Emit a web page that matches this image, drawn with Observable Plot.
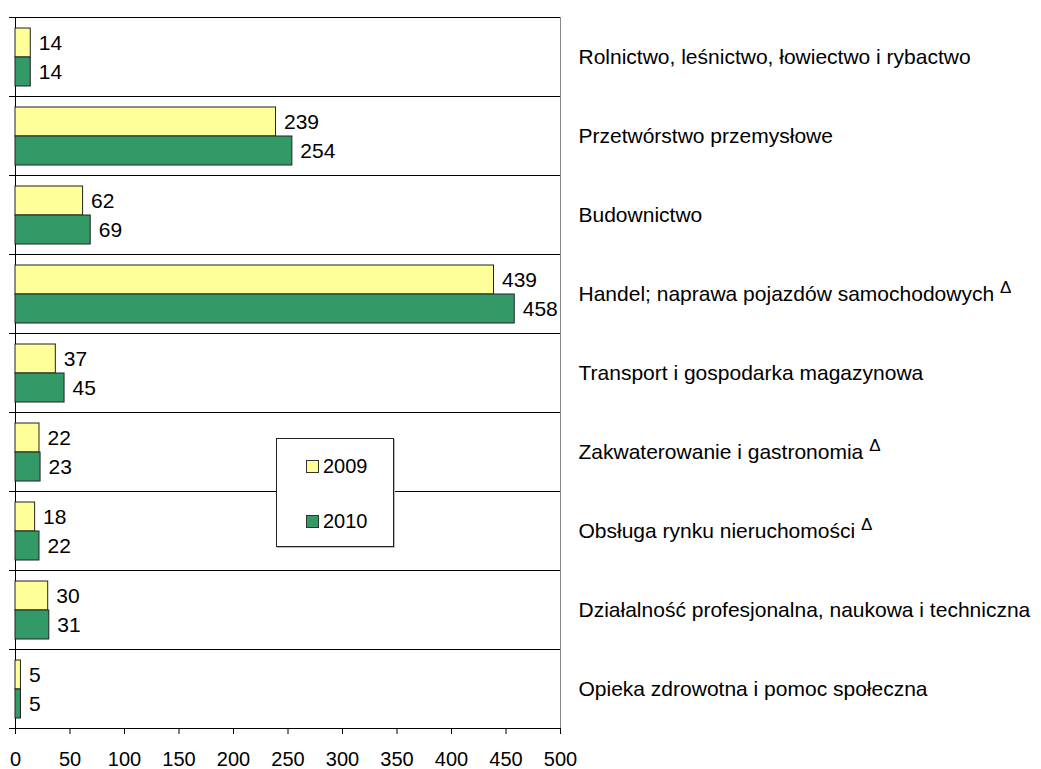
<!DOCTYPE html>
<html><head><meta charset="utf-8">
<script src="https://cdn.jsdelivr.net/npm/d3@7"></script>
<script src="https://cdn.jsdelivr.net/npm/@observablehq/plot@0.6"></script>
<style>
body{margin:0;background:#fff;font-family:"Liberation Sans",Arial,sans-serif}
#wrap{position:relative;width:1041px;height:769px}
.legend{position:absolute;left:276px;top:438px;width:116px;height:107px;border:1px solid #222;background:#fff;box-shadow:1px 1px 0 #bbb;font-size:20px;color:#000}
.legend .item{position:absolute;left:29px;display:flex;align-items:center;line-height:20px}
.legend .sw{width:11px;height:11px;border:1px solid #333;margin-right:4px;display:inline-block}
</style></head>
<body><div id="wrap"></div>
<script>
const categories = [
  "Rolnictwo, leśnictwo, łowiectwo i rybactwo",
  "Przetwórstwo przemysłowe",
  "Budownictwo",
  "Handel; naprawa pojazdów samochodowych",
  "Transport i gospodarka magazynowa",
  "Zakwaterowanie i gastronomia",
  "Obsługa rynku nieruchomości",
  "Działalność profesjonalna, naukowa i techniczna",
  "Opieka zdrowotna i pomoc społeczna"
];
const deltaMarked = [false, false, false, true, false, true, true, false, false];
const years = ["2009", "2010"];
const values2009 = [14, 239, 62, 439, 37, 22, 18, 30, 5];
const values2010 = [14, 254, 69, 458, 45, 23, 22, 31, 5];
const colors = ["#FFFF99", "#339966"];
const xTicks = [0, 50, 100, 150, 200, 250, 300, 350, 400, 450, 500];

const data = categories.flatMap((c, i) => [
  {category: c, year: years[0], value: values2009[i]},
  {category: c, year: years[1], value: values2010[i]}
]);

const FONT = '"Liberation Sans", Arial, sans-serif';

const chart = Plot.plot({
  width: 1041, height: 769,
  marginLeft: 15, marginRight: 481, marginTop: 15, marginBottom: 40,
  style: {fontFamily: FONT, fontSize: "21px", color: "#000", background: "#fff"},
  x: {domain: [0, 500], label: null},
  y: {domain: years, paddingInner: 0, paddingOuter: 0.32, axis: null},
  fy: {domain: categories, padding: 0, axis: null},
  color: {domain: years, range: colors},
  marks: [
    Plot.frame({anchor: "top", insetLeft: -6, stroke: "#000", strokeOpacity: 1}),
    Plot.frame({anchor: "bottom", insetLeft: -6, stroke: "#000", strokeOpacity: 1}),
    Plot.frame({anchor: "left", stroke: "#000", strokeOpacity: 1}),
    Plot.frame({anchor: "right", stroke: "#888", strokeOpacity: 1}),
    Plot.axisX({ticks: xTicks, tickSize: 6, tickPadding: 17, fontSize: 20, fill: "#000", stroke: "#000", label: null}),
    Plot.barX(data, {x: "value", y: "year", fy: "category", fill: "year", stroke: "#222", strokeWidth: 1}),
    Plot.text(data, {x: "value", y: "year", fy: "category", text: "value", textAnchor: "start", dx: 8, fill: "#000", fontSize: 21}),
    Plot.text(categories, {fy: d => d, text: (d, i) => deltaMarked[i] ? d + " \u0394" : d,
      frameAnchor: "right", textAnchor: "start", dx: 18, fill: "#000", fontSize: 21})
  ]
});

d3.select(chart).selectAll("text").each(function() {
  const t = this.textContent;
  if (t.endsWith(" \u0394")) {
    const s = d3.select(this);
    s.text(null);
    s.append("tspan").text(t.slice(0, -2) + " ");
    s.append("tspan").attr("font-size", 17).attr("dy", -8).text("\u0394");
  }
});

const wrap = document.getElementById("wrap");
wrap.appendChild(chart);
const legend = document.createElement("div");
legend.className = "legend";
years.forEach((y, i) => {
  const it = document.createElement("div");
  it.className = "item";
  it.style.top = (i === 0 ? 17 : 72) + "px";
  it.innerHTML = `<span class="sw" style="background:${colors[i]}"></span><span>${y}</span>`;
  legend.appendChild(it);
});
wrap.appendChild(legend);
</script>
</body></html>
